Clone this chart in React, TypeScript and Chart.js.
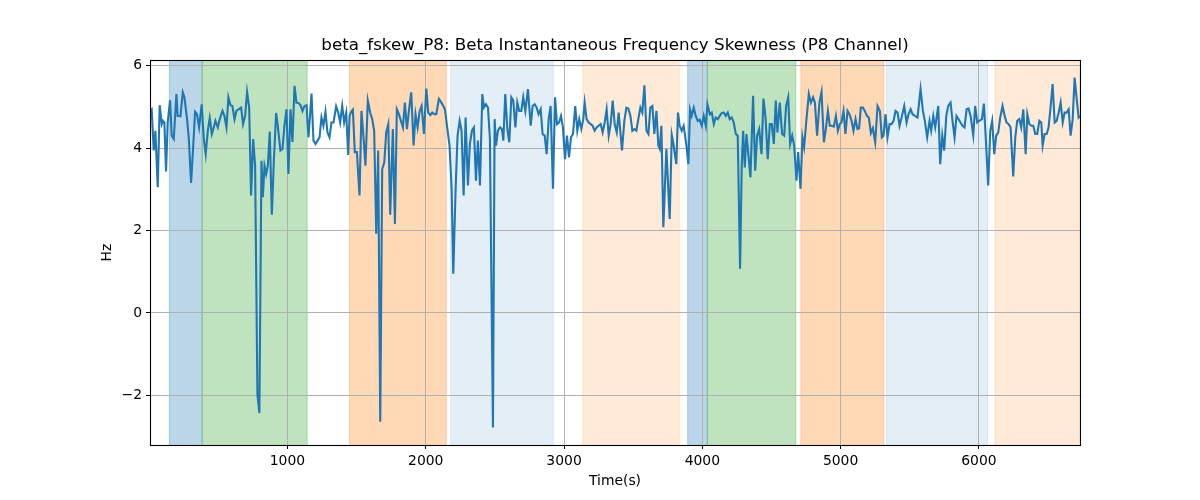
import React, { useEffect, useRef } from "react";
import { Chart, registerables } from "chart.js";

Chart.register(...registerables);

// ---- data ----
const times: number[] = [
  6, 18, 33, 45, 62, 76, 91, 100, 110, 122, 134, 151, 163, 178, 197, 206, 226, 243, 255, 274,
  286, 303, 320, 332, 346, 361, 380, 395, 409, 424, 438, 453, 467, 479, 496, 510, 530, 544, 559, 573,
  588, 602, 617, 631, 646, 665, 679, 694, 708, 723, 737, 752, 766, 783, 797, 812, 822, 834, 846, 858,
  872, 887, 901, 918, 930, 949, 964, 978, 993, 1007, 1022, 1036, 1051, 1065, 1080, 1094, 1109, 1123, 1138, 1152,
  1174, 1188, 1203, 1217, 1232, 1246, 1260, 1275, 1289, 1304, 1318, 1333, 1352, 1367, 1381, 1396, 1410, 1425, 1439, 1449,
  1461, 1473, 1487, 1502, 1521, 1535, 1550, 1564, 1581, 1598, 1613, 1627, 1642, 1656, 1671, 1685, 1700, 1714, 1729, 1743,
  1762, 1777, 1791, 1806, 1820, 1835, 1849, 1864, 1878, 1895, 1912, 1926, 1941, 1955, 1970, 1987, 2004, 2018, 2033, 2047,
  2062, 2076, 2095, 2110, 2124, 2139, 2155, 2172, 2187, 2199, 2216, 2230, 2245, 2259, 2274,
  2288, 2305, 2319, 2334, 2348, 2363, 2377, 2392, 2409, 2421, 2435, 2450, 2464, 2486, 2498, 2508, 2522, 2537, 2551, 2561,
  2575, 2590, 2604, 2619, 2633, 2648, 2662, 2676, 2691, 2705, 2720, 2739, 2759, 2773, 2788, 2802, 2816, 2831, 2845, 2860,
  2874, 2889, 2903, 2920, 2935, 2949, 2964, 2978, 2992, 3007, 3021, 3036, 3050, 3065, 3081, 3096, 3110, 3125, 3139, 3149,
  3163, 3178, 3192, 3207, 3221, 3236, 3250, 3265, 3279, 3294, 3308, 3323, 3337, 3352, 3366, 3381, 3395,
  3419, 3436, 3451, 3465, 3480, 3494, 3509, 3523, 3537, 3552, 3566, 3581, 3596, 3610, 3624, 3639, 3653, 3668, 3682, 3692,
  3704, 3718, 3740, 3764, 3779, 3791, 3803, 3812, 3824, 3836, 3851, 3865, 3885, 3899, 3911, 3923, 3938, 3952, 3967, 3981,
  3996, 4010, 4025, 4037, 4054, 4068, 4083, 4097, 4112, 4126, 4141, 4155, 4169, 4184, 4198, 4213, 4227, 4242, 4256, 4273,
  4285, 4295, 4307, 4319, 4334, 4348, 4367, 4382, 4396, 4411, 4428, 4442, 4457, 4473, 4488, 4502, 4517,
  4531, 4543, 4560, 4577, 4592, 4606, 4621, 4635, 4650, 4664, 4681, 4693, 4710, 4724, 4736, 4751, 4770, 4785, 4801, 4814,
  4830, 4847, 4862, 4879, 4893, 4908, 4922, 4937, 4951, 4966, 4980, 4994, 5006, 5021, 5035, 5050, 5064, 5079, 5093, 5108,
  5122, 5134, 5146, 5161, 5175, 5190, 5204, 5219, 5233, 5250, 5267, 5284, 5298, 5310, 5325, 5339, 5354, 5368, 5383, 5397,
  5412, 5426, 5441, 5460, 5477, 5491, 5506, 5520, 5537, 5556, 5578, 5595, 5609, 5626, 5643,
  5655, 5670, 5684, 5694, 5706, 5720, 5735, 5749, 5764, 5778, 5795, 5809, 5824, 5838, 5853, 5867, 5882, 5896, 5911, 5925,
  5940, 5959, 5973, 5988, 6002, 6022, 6036, 6050, 6067, 6082, 6096, 6111, 6125, 6140, 6154, 6171, 6186, 6200, 6215, 6229,
  6248, 6263, 6277, 6292, 6306, 6321, 6338, 6350, 6365, 6379, 6393, 6408, 6422, 6437, 6451, 6461, 6475, 6490, 6504, 6519,
  6533, 6548, 6562, 6577, 6591, 6606, 6620, 6634, 6649, 6663, 6678, 6692, 6707, 6721, 6731,
];

const values: number[] = [
  4.90, 4.94, 3.94, 4.42, 3.05, 5.04, 4.58, 4.66, 4.62, 3.43, 4.62, 5.16, 4.30, 4.22, 5.31, 4.78, 4.77, 5.35, 5.23, 4.70,
  4.26, 3.15, 4.14, 4.88, 4.82, 4.50, 5.06, 4.22, 3.85, 4.42, 4.73, 4.34, 4.50, 4.66, 4.50, 4.70, 4.90, 4.78, 4.50, 5.23,
  5.04, 5.02, 4.70, 4.90, 4.94, 4.98, 4.58, 4.78, 5.36, 4.98, 2.85, 4.22, 3.57, -1.99, -2.43, 3.69, 2.81, 3.57, 3.37, 3.57,
  4.40, 2.38, 3.65, 4.85, 4.54, 3.94, 3.98, 4.54, 4.94, 3.37, 4.94, 4.15, 5.51, 5.10, 5.09, 5.04, 4.90, 5.02, 5.04, 4.26,
  5.32, 4.18, 4.10, 4.18, 4.26, 4.74, 4.54, 4.88, 4.38, 4.26, 4.62, 4.62, 5.01, 4.86, 4.62, 5.02, 4.62, 4.86, 3.83, 4.78,
  4.88, 4.93, 3.90, 3.90, 2.85, 4.90, 4.26, 3.57, 5.15, 4.86, 4.70, 4.42, 1.92, 3.94, -2.64, 3.49, 3.65, 4.38, 4.58, 2.38,
  4.46, 2.16, 4.94, 4.82, 4.66, 4.50, 5.10, 4.46, 4.90, 5.35, 4.06, 4.82, 4.50, 4.88, 5.02, 4.34, 5.44, 4.86, 4.80, 4.86,
  4.82, 4.82, 5.19, 5.12, 5.04, 4.94, 4.50, 4.06, 3.01, 0.95, 3.01, 4.30, 4.66, 4.42, 2.85,
  4.74, 3.09, 4.10, 4.42, 4.50, 3.21, 4.18, 3.09, 5.31, 4.98, 5.06, 4.98, 4.22, -2.78, 4.70, 4.06, 4.42, 4.50, 4.46, 4.18,
  5.31, 4.46, 4.14, 5.23, 5.15, 4.50, 5.10, 4.90, 4.90, 5.23, 4.90, 5.43, 4.54, 5.02, 5.06, 4.98, 4.82, 4.94, 4.34, 4.30,
  3.85, 4.70, 5.02, 3.01, 5.23, 4.58, 4.62, 4.78, 4.50, 3.73, 4.30, 3.77, 4.26, 4.34, 5.02, 4.42, 4.70, 4.46, 4.70, 5.10,
  4.70, 4.62, 4.58, 4.54, 4.42, 4.50, 4.54, 4.58, 4.38, 4.62, 4.94, 4.30, 4.58, 5.15, 4.58, 4.38, 4.86,
  3.94, 4.66, 4.98, 4.96, 4.78, 4.42, 4.46, 4.42, 4.70, 4.98, 4.86, 5.52, 4.42, 4.34, 4.98, 5.02, 4.34, 4.90, 4.06, 3.98,
  4.54, 2.08, 3.98, 2.28, 4.32, 4.10, 3.81, 3.61, 4.86, 4.54, 4.42, 4.54, 4.06, 3.61, 4.93, 4.78, 4.98, 4.78, 4.66, 4.69,
  4.54, 4.78, 4.54, 5.06, 4.82, 4.86, 4.58, 4.74, 4.70, 4.78, 4.85, 4.86, 4.78, 4.86, 4.70, 4.74, 4.62, 4.34, 4.30, 1.07,
  3.57, 4.42, 3.53, 4.34, 3.81, 3.29, 5.27, 3.45, 4.30, 4.46, 3.85, 5.20, 4.74, 3.73, 4.58, 4.58, 4.10,
  5.15, 4.38, 5.10, 4.34, 4.30, 5.02, 5.23, 4.10, 4.30, 4.06, 3.21, 3.90, 3.01, 4.26, 4.02, 4.62, 5.31, 5.10, 5.23, 5.10,
  4.30, 5.10, 5.36, 4.14, 4.46, 4.90, 4.54, 4.54, 4.52, 4.78, 4.42, 4.58, 4.62, 4.90, 4.34, 4.90, 4.82, 4.66, 4.42, 4.70,
  4.46, 4.48, 4.98, 4.98, 4.90, 4.78, 4.74, 4.36, 4.48, 4.14, 5.02, 4.90, 4.26, 4.30, 4.82, 4.26, 4.58, 4.58, 4.66, 4.90,
  4.86, 4.54, 4.74, 5.02, 4.62, 4.82, 4.94, 4.82, 4.78, 4.74, 5.43, 4.90, 4.66, 4.26, 4.66,
  4.42, 4.78, 4.50, 4.74, 5.02, 3.61, 4.30, 3.94, 4.78, 5.02, 5.10, 4.66, 4.26, 4.78, 4.70, 4.62, 4.54, 4.50, 4.94, 4.96,
  4.78, 4.31, 5.02, 4.62, 4.66, 4.70, 5.08, 4.22, 3.09, 4.42, 4.66, 3.85, 4.30, 4.38, 4.74, 5.02, 4.78, 4.62, 4.58, 4.50,
  3.31, 4.26, 4.66, 4.70, 4.50, 4.94, 3.85, 4.82, 4.58, 4.54, 4.54, 4.34, 4.34, 4.66, 4.62, 4.06, 4.34, 4.34, 4.50, 5.02,
  5.55, 4.62, 4.66, 4.86, 5.10, 4.62, 4.86, 4.86, 4.94, 4.30, 4.70, 5.71, 5.19, 4.74, 4.78,
];

const xTicks: number[] = [1000, 2000, 3000, 4000, 5000, 6000];
const yTicks: number[] = [-2, 0, 2, 4, 6];

// shaded time segments
const bandStart: number[] = [146, 383, 1449, 2180, 3135, 3894, 4036, 4712, 5332, 6116];
const bandEnd: number[] = [383, 1143, 2148, 2922, 3834, 4036, 4676, 5313, 6063, 6731];
const bandKind: string[] = ["A", "B", "C", "D", "E", "A", "B", "C", "D", "E"];

const TITLE = "beta_fskew_P8: Beta Instantaneous Frequency Skewness (P8 Channel)";
const X_LABEL = "Time(s)";
const Y_LABEL = "Hz";

// ---- styles ----
const BAND_COLORS: Record<string, string> = {
  A: "rgba(31,119,180,0.3)",
  B: "rgba(44,160,44,0.3)",
  C: "rgba(255,127,14,0.3)",
  D: "rgba(31,119,180,0.12)",
  E: "rgba(255,127,14,0.16)",
};
const FONT = "'DejaVu Sans', sans-serif";

const fmt = (v: number | string) => {
  const n = Number(v);
  return n < 0 ? "\u2212" + String(-n) : String(n);
};

export default function App() {
  const ref = useRef<HTMLCanvasElement | null>(null);

  useEffect(() => {
    if (!ref.current) return;
    const vmin = Math.min(...values);
    const vmax = Math.max(...values);
    const span = vmax - vmin;

    const bandPlugin = {
      id: "bands",
      beforeDraw(chart: any) {
        const { ctx, chartArea, scales } = chart;
        const xs = scales.x;
        ctx.save();
        ctx.beginPath();
        ctx.rect(chartArea.left, chartArea.top, chartArea.right - chartArea.left, chartArea.bottom - chartArea.top);
        ctx.clip();
        for (let i = 0; i < bandStart.length; i++) {
          const x0 = xs.getPixelForValue(bandStart[i]);
          const x1 = xs.getPixelForValue(bandEnd[i]);
          ctx.fillStyle = BAND_COLORS[bandKind[i]];
          ctx.fillRect(x0, chartArea.top, x1 - x0, chartArea.bottom - chartArea.top);
          ctx.strokeStyle = BAND_COLORS[bandKind[i]];
          ctx.lineWidth = 1;
          ctx.beginPath();
          ctx.moveTo(x0, chartArea.top);
          ctx.lineTo(x0, chartArea.bottom);
          ctx.moveTo(x1, chartArea.top);
          ctx.lineTo(x1, chartArea.bottom);
          ctx.stroke();
        }
        ctx.restore();
      },
    };

    const framePlugin = {
      id: "frame",
      afterDraw(chart: any) {
        const { ctx, chartArea } = chart;
        ctx.save();
        ctx.strokeStyle = "#000";
        ctx.lineWidth = 1.1;
        ctx.strokeRect(
          Math.round(chartArea.left) + 0.5,
          Math.round(chartArea.top) + 0.5,
          Math.round(chartArea.right - chartArea.left),
          Math.round(chartArea.bottom - chartArea.top)
        );
        ctx.restore();
      },
    };

    const tickFont = { family: FONT, size: 13.9 };

    const chart = new Chart(ref.current, {
      type: "line",
      data: {
        datasets: [
          {
            data: times.map((t, i) => ({ x: t, y: values[i] })),
            borderColor: "#1f77b4",
            borderWidth: 2.1,
            pointRadius: 0,
            tension: 0,
            fill: false,
          },
        ],
      },
      options: {
        responsive: false,
        animation: false,
        devicePixelRatio: 1,
        layout: { padding: { left: 30, right: 0, top: 0, bottom: 0 } },
        plugins: {
          legend: { display: false },
          tooltip: { enabled: false },
          title: {
            display: true,
            text: TITLE,
            color: "#000",
            font: { family: FONT, size: 16.7, weight: "normal" },
            padding: { top: 36, bottom: 4 },
          },
        },
        scales: {
          x: {
            type: "linear",
            min: times[0],
            max: times[times.length - 1],
            afterBuildTicks: (s: any) => {
              s.ticks = xTicks.map((v) => ({ value: v }));
            },
            afterFit: (s: any) => {
              s.height = 55;
            },
            grid: {
              color: "#b0b0b0",
              lineWidth: 1,
              drawTicks: true,
              tickLength: 4,
              tickColor: "#000",
              tickWidth: 1,
            },
            border: { display: false },
            ticks: {
              color: "#000",
              font: tickFont,
              padding: 4,
              maxRotation: 0,
              autoSkip: false,
              callback: (v: any) => fmt(v),
            },
            title: {
              display: true,
              text: X_LABEL,
              color: "#000",
              font: tickFont,
              padding: { top: 0, bottom: 10.5 },
            },
          },
          y: {
            type: "linear",
            position: "left",
            min: vmin - 0.05 * span,
            max: vmax + 0.05 * span,
            afterBuildTicks: (s: any) => {
              s.ticks = yTicks.map((v) => ({ value: v }));
            },
            afterFit: (s: any) => {
              s.width = 120;
            },
            grid: {
              color: "#b0b0b0",
              lineWidth: 1,
              drawTicks: true,
              tickLength: 4,
              tickColor: "#000",
              tickWidth: 1,
            },
            border: { display: false },
            ticks: {
              color: "#000",
              font: tickFont,
              padding: 4,
              autoSkip: false,
              callback: (v: any) => fmt(v),
            },
            title: {
              display: true,
              text: Y_LABEL,
              color: "#000",
              font: tickFont,
              padding: { top: 69.5, bottom: 0 },
            },
          },
          yr: {
            type: "linear",
            position: "right",
            display: true,
            afterFit: (s: any) => {
              s.width = 120;
            },
            grid: { display: false, drawTicks: false },
            border: { display: false },
            ticks: { display: false },
          },
        },
      },
      plugins: [bandPlugin, framePlugin],
    } as any);

    return () => chart.destroy();
  }, []);

  return (
    <div style={{ position: "absolute", left: 0, top: 0, width: 1200, height: 500, background: "#fff" }}>
      <canvas ref={ref} width={1200} height={500} style={{ width: 1200, height: 500, display: "block" }} />
    </div>
  );
}
